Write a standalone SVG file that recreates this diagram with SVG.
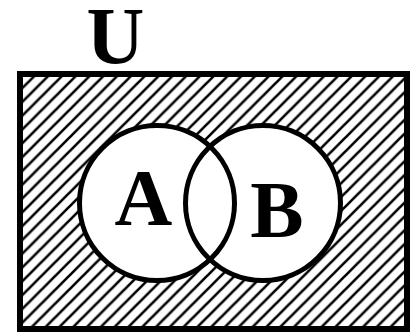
<svg xmlns="http://www.w3.org/2000/svg" width="418" height="332" viewBox="0 0 418 332">
  <style>
    .lbl { font-family: "Liberation Serif", "Times New Roman", serif; font-weight: bold; font-size: 80px; fill: #000; text-anchor: middle; }
    .ring { fill: none; stroke: #000; stroke-width: 5; }
    .hole { fill: #fff; stroke: none; }
    .frame { stroke: #000; stroke-width: 6; }
  </style>
  <defs>
    <pattern id="hatch" patternUnits="userSpaceOnUse" x="0" y="0" width="13.8" height="13.8">
      <path d="M-2,15.8 L15.8,-2 M-3,3 L3,-3 M10.8,16.8 L16.8,10.8" stroke="#000" stroke-width="2.6"/>
    </pattern>
  </defs>
  <rect width="418" height="332" fill="#fff"/>
  <g id="U">
    <rect class="frame" x="20" y="74" width="387" height="255" fill="url(#hatch)"/>
    <text class="lbl" x="115.5" y="62.5">U</text>
  </g>
  <g id="holes">
    <circle class="hole" cx="157" cy="203" r="77.5"/>
    <circle class="hole" cx="263" cy="203" r="77.5"/>
  </g>
  <g id="A">
    <circle class="ring" cx="157" cy="203" r="77.5"/>
    <text class="lbl" x="143.5" y="225">A</text>
  </g>
  <g id="B">
    <circle class="ring" cx="263" cy="203" r="77.5"/>
    <text class="lbl" x="277" y="237">B</text>
  </g>
  <g id="connectors"/>
</svg>
